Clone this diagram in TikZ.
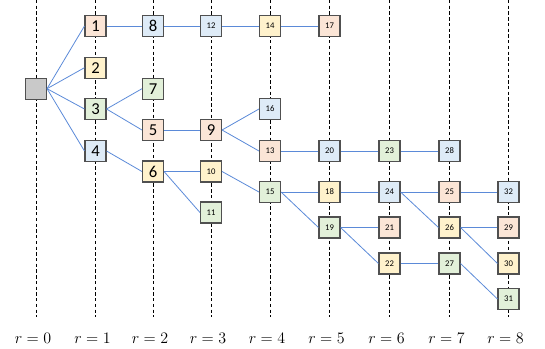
\documentclass[tikz,border=0pt]{standalone}
\usepackage{fontspec}
\usepackage{tikz}
\usetikzlibrary{positioning}
\newfontfamily\cellfont{Carlito}
\definecolor{cellpeach}{RGB}{251, 229, 214}
\definecolor{cellyellow}{RGB}{255, 242, 204}
\definecolor{cellgreen}{RGB}{226, 240, 217}
\definecolor{cellblue}{RGB}{222, 235, 247}
\definecolor{cellgray}{RGB}{201, 201, 201}
\definecolor{cellborder}{RGB}{80, 80, 80}
\definecolor{linkblue}{RGB}{91, 138, 216}

\begin{document}
\begin{tikzpicture}[
    x=0.75pt, y=-0.75pt,
    cell/.style={draw=cellborder, line width=0.8pt, fill=#1, minimum size=15.75pt,
                 inner sep=0pt, font=\cellfont\fontsize{12.5}{12.5}\selectfont},
    small/.style={font=\cellfont\fontsize{6.5}{6.5}\selectfont},
    link/.style={draw=linkblue, line width=0.6pt},
    guide/.style={dashed, line width=0.6pt, dash pattern=on 2.5pt off 1.8pt},
    round/.style={font=\fontsize{12.5}{12.5}\selectfont}
]
    \useasboundingbox (0,0) rectangle (545,349);

    % round guides
    \draw[guide] (36,0) -- (36,317);
    \draw[guide] (95.5,0) -- (95.5,317);
    \draw[guide] (153,0) -- (153,317);
    \draw[guide] (211,0) -- (211,317);
    \draw[guide] (270,0) -- (270,317);
    \draw[guide] (329.5,0) -- (329.5,317);
    \draw[guide] (389.5,0) -- (389.5,317);
    \draw[guide] (449.5,0) -- (449.5,317);
    \draw[guide] (508.5,0) -- (508.5,317);

    \node[round] (r0) at (33,338) {$r=0$};
    \node[round] (r1) at (92.5,338) {$r=1$};
    \node[round] (r2) at (150,338) {$r=2$};
    \node[round] (r3) at (208,338) {$r=3$};
    \node[round] (r4) at (267,338) {$r=4$};
    \node[round] (r5) at (326.5,338) {$r=5$};
    \node[round] (r6) at (386.5,338) {$r=6$};
    \node[round] (r7) at (446.5,338) {$r=7$};
    \node[round] (r8) at (505.5,338) {$r=8$};

    % cells
    \node[cell=cellgray] (root) at (36,88.7) {};
    \node[cell=cellpeach] (n1) at (95.5,26) {1};
    \node[cell=cellyellow] (n2) at (95.5,67.7) {2};
    \node[cell=cellgreen] (n3) at (95.5,109) {3};
    \node[cell=cellblue] (n4) at (95.5,151) {4};
    \node[cell=cellblue] (n8) at (153,26) {8};
    \node[cell=cellgreen] (n7) at (153,88.7) {7};
    \node[cell=cellpeach] (n5) at (153,130) {5};
    \node[cell=cellyellow] (n6) at (153,171.5) {6};
    \node[cell=cellblue, small] (n12) at (211,26) {12};
    \node[cell=cellpeach] (n9) at (211,130) {9};
    \node[cell=cellyellow, small] (n10) at (211,171.5) {10};
    \node[cell=cellgreen, small] (n11) at (211,212.5) {11};
    \node[cell=cellyellow, small] (n14) at (270,26) {14};
    \node[cell=cellblue, small] (n16) at (270,109) {16};
    \node[cell=cellpeach, small] (n13) at (270,151) {13};
    \node[cell=cellgreen, small] (n15) at (270,192) {15};
    \node[cell=cellpeach, small] (n17) at (329.5,26) {17};
    \node[cell=cellblue, small] (n20) at (329.5,151) {20};
    \node[cell=cellyellow, small] (n18) at (329.5,192) {18};
    \node[cell=cellgreen, small] (n19) at (329.5,227.5) {19};
    \node[cell=cellgreen, small] (n23) at (389.5,151) {23};
    \node[cell=cellblue, small] (n24) at (389.5,192) {24};
    \node[cell=cellpeach, small] (n21) at (389.5,227.5) {21};
    \node[cell=cellyellow, small] (n22) at (389.5,263.5) {22};
    \node[cell=cellblue, small] (n28) at (449.5,151) {28};
    \node[cell=cellpeach, small] (n25) at (449.5,192) {25};
    \node[cell=cellyellow, small] (n26) at (449.5,227.5) {26};
    \node[cell=cellgreen, small] (n27) at (449.5,263.5) {27};
    \node[cell=cellblue, small] (n32) at (508.5,192) {32};
    \node[cell=cellpeach, small] (n29) at (508.5,227.5) {29};
    \node[cell=cellyellow, small] (n30) at (508.5,263.5) {30};
    \node[cell=cellgreen, small] (n31) at (508.5,299) {31};

    % links
    \draw[link] (root.east) -- (n1.west);
    \draw[link] (root.east) -- (n2.west);
    \draw[link] (root.east) -- (n3.west);
    \draw[link] (root.east) -- (n4.west);
    \draw[link] (n1.east) -- (n8.west);
    \draw[link] (n8.east) -- (n12.west);
    \draw[link] (n12.east) -- (n14.west);
    \draw[link] (n14.east) -- (n17.west);
    \draw[link] (n3.east) -- (n7.west);
    \draw[link] (n3.east) -- (n5.west);
    \draw[link] (n5.east) -- (n9.west);
    \draw[link] (n9.east) -- (n16.west);
    \draw[link] (n9.east) -- (n13.west);
    \draw[link] (n13.east) -- (n20.west);
    \draw[link] (n20.east) -- (n23.west);
    \draw[link] (n23.east) -- (n28.west);
    \draw[link] (n4.east) -- (n6.west);
    \draw[link] (n6.east) -- (n10.west);
    \draw[link] (n6.east) -- (n11.west);
    \draw[link] (n10.east) -- (n15.west);
    \draw[link] (n15.east) -- (n18.west);
    \draw[link] (n15.east) -- (n19.west);
    \draw[link] (n18.east) -- (n24.west);
    \draw[link] (n24.east) -- (n25.west);
    \draw[link] (n24.east) -- (n26.west);
    \draw[link] (n25.east) -- (n32.west);
    \draw[link] (n19.east) -- (n21.west);
    \draw[link] (n19.east) -- (n22.west);
    \draw[link] (n22.east) -- (n27.west);
    \draw[link] (n26.east) -- (n29.west);
    \draw[link] (n26.east) -- (n30.west);
    \draw[link] (n27.east) -- (n31.west);
\end{tikzpicture}
\end{document}
